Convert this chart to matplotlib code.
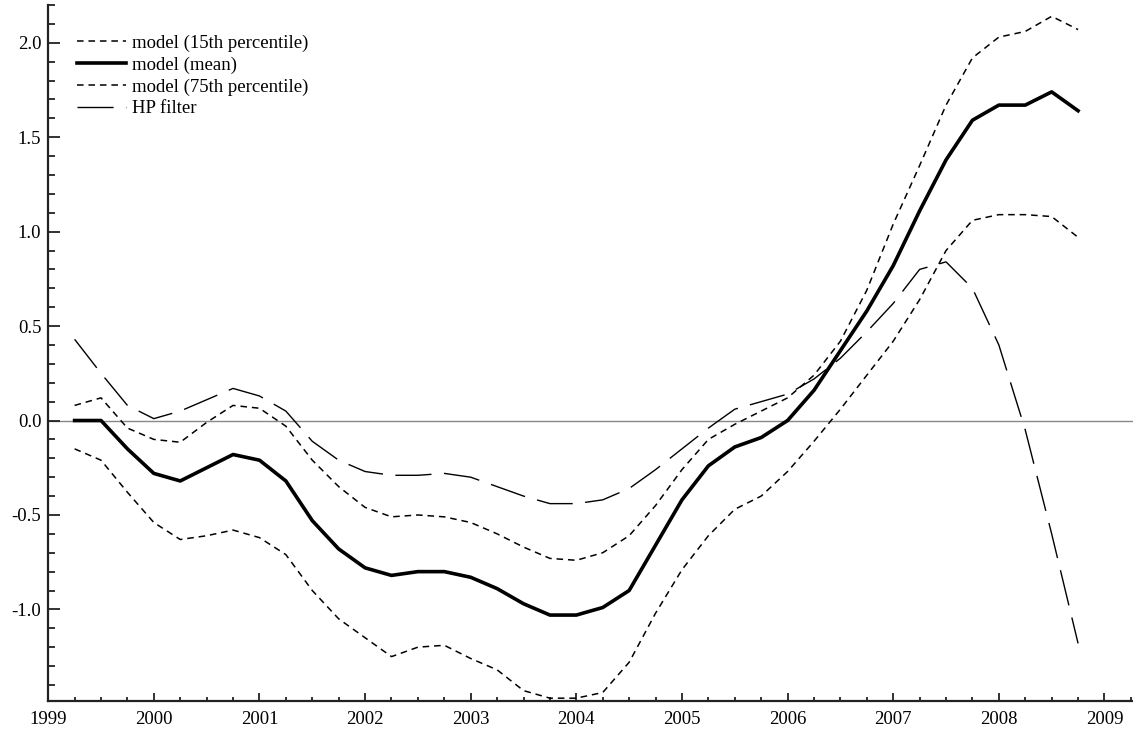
import numpy as np
import matplotlib
matplotlib.use('Agg')
import matplotlib.pyplot as plt
from matplotlib.ticker import MultipleLocator, FormatStrFormatter

# quarterly dates, 1999Q2 .. 2008Q4
t = 1999.25 + 0.25*np.arange(39)

mean = [0.00, 0.00, -0.15, -0.28, -0.32, -0.25, -0.18, -0.21, -0.32, -0.53,
        -0.68, -0.78, -0.82, -0.80, -0.80, -0.83, -0.89, -0.97, -1.03, -1.03,
        -0.99, -0.90, -0.66, -0.42, -0.24, -0.14, -0.09, 0.00, 0.16, 0.37,
        0.58, 0.82, 1.11, 1.38, 1.59, 1.67, 1.67, 1.74, 1.64]
p_hi = [0.08, 0.12, -0.04, -0.10, -0.115, -0.01, 0.08, 0.065, -0.03, -0.21,
        -0.35, -0.46, -0.51, -0.50, -0.51, -0.54, -0.60, -0.67, -0.73, -0.74,
        -0.70, -0.61, -0.45, -0.26, -0.10, -0.02, 0.05, 0.12, 0.24, 0.42,
        0.69, 1.04, 1.35, 1.67, 1.92, 2.03, 2.06, 2.14, 2.07]
p_lo = [-0.15, -0.21, -0.38, -0.54, -0.63, -0.61, -0.58, -0.62, -0.71, -0.90,
        -1.05, -1.15, -1.25, -1.20, -1.19, -1.26, -1.32, -1.43, -1.47, -1.47,
        -1.44, -1.28, -1.02, -0.79, -0.61, -0.47, -0.40, -0.27, -0.11, 0.06,
        0.24, 0.42, 0.64, 0.90, 1.06, 1.09, 1.09, 1.08, 0.97]
hp = [0.43, 0.25, 0.08, 0.01, 0.05, 0.11, 0.17, 0.13, 0.05, -0.11,
      -0.21, -0.27, -0.29, -0.29, -0.28, -0.30, -0.35, -0.40, -0.44, -0.44,
      -0.42, -0.36, -0.26, -0.15, -0.04, 0.06, 0.10, 0.14, 0.22, 0.33,
      0.47, 0.62, 0.80, 0.84, 0.70, 0.40, -0.05, -0.60, -1.18]

plt.rcParams['font.family'] = ['Liberation Serif', 'DejaVu Serif']
fig = plt.figure(figsize=(11.33, 7.31), dpi=100)
ax = fig.add_axes([48.2/1133, 30/731, 1 - 48.2/1133, 696/731])

ax.axhline(0, color='#888888', lw=1.0, zorder=1)
ax.plot(t, p_lo, color='black', lw=1.1, dashes=(4.3, 3.2), label='model (15th percentile)')
ax.plot(t, mean, color='black', lw=2.6, label='model (mean)')
ax.plot(t, p_hi, color='black', lw=1.1, dashes=(4.3, 3.2), label='model (75th percentile)')
ax.plot(t, hp, color='black', lw=1.0, dashes=(26, 9), label='HP filter')

ax.set_xlim(1999.0, 2009.27)
ax.set_ylim(-1.485, 2.2)
for s in ('top', 'right'):
    ax.spines[s].set_visible(False)
for s in ('left', 'bottom'):
    ax.spines[s].set_linewidth(1.6)
    ax.spines[s].set_color('#222222')

ax.xaxis.set_major_locator(MultipleLocator(1))
ax.xaxis.set_minor_locator(MultipleLocator(0.25))
ax.yaxis.set_major_locator(MultipleLocator(0.5))
ax.yaxis.set_minor_locator(MultipleLocator(0.1))
ax.xaxis.set_major_formatter(FormatStrFormatter('%d'))
ax.yaxis.set_major_formatter(FormatStrFormatter('%.1f'))
ax.tick_params(which='both', direction='in', color='#222222', width=1.3, labelsize=13.5)
ax.tick_params(axis='y', which='major', length=8.5, pad=5)
ax.tick_params(axis='y', which='minor', length=5)
ax.tick_params(axis='x', which='major', length=6, pad=7)
ax.tick_params(axis='x', which='minor', length=3)

ax.legend(loc='upper left', bbox_to_anchor=(0.027, 0.958), frameon=False,
          fontsize=13.5, handlelength=2.6, handletextpad=0.3, labelspacing=0.25,
          borderaxespad=0, borderpad=0)

fig.savefig('out.png', dpi=100)
